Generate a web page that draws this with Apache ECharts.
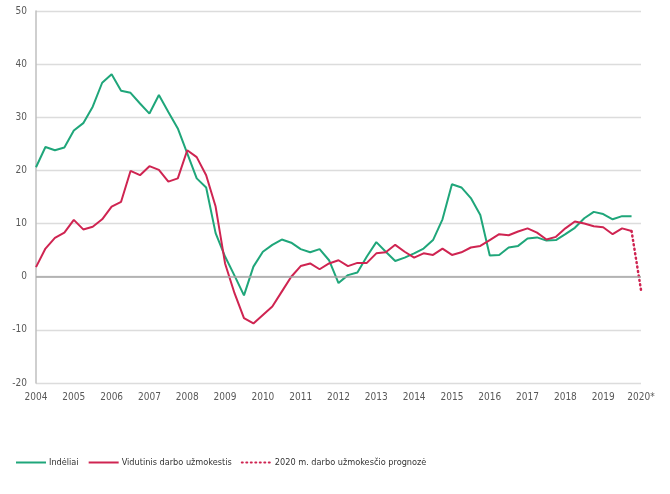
<!DOCTYPE html>
<html>
<head>
<meta charset="utf-8">
<script src="https://cdn.jsdelivr.net/npm/echarts@6/dist/echarts.min.js"></script>
<style>
html,body{margin:0;padding:0;background:#fff;}
#chart{width:670px;height:494px;}
</style>
</head>
<body>
<div id="chart"></div>
<script>
// Years shown on the axis (quarterly data from 2004 Q1 to 2020 Q1)
const years = [2004,2005,2006,2007,2008,2009,2010,2011,2012,2013,2014,2015,2016,2017,2018,2019,2020];
const yearLabels = ['2004','2005','2006','2007','2008','2009','2010','2011','2012','2013','2014','2015','2016','2017','2018','2019','2020*'];

// Indėliai (deposits), y/y %, 2004 Q1 .. 2019 Q4
const deposits = [
  20.6, 24.4, 23.8, 24.3,
  27.5, 28.9, 32.0, 36.5,
  38.1, 35.0, 34.6, 32.6,
  30.7, 34.2, 31.0, 27.9,
  23.2, 18.5, 16.8, 8.2,
  3.8, 0.2, -3.5, 1.9,
  4.7, 6.0, 7.0, 6.4,
  5.2, 4.6, 5.2, 3.1,
  -1.2, 0.3, 0.8, 3.8,
  6.5, 4.7, 2.95, 3.6,
  4.4, 5.3, 6.9, 10.8,
  17.4, 16.8, 14.8, 11.6,
  4.0, 4.1, 5.5, 5.8,
  7.2, 7.4, 6.8, 6.9,
  8.0, 9.2, 11.0, 12.2,
  11.8, 10.8, 11.4, 11.4
];

// Vidutinis darbo užmokestis (average wage), y/y %, 2004 Q1 .. 2019 Q4
const wages = [
  1.8, 5.3, 7.3, 8.3,
  10.7, 8.9, 9.4, 10.8,
  13.2, 14.1, 19.9, 19.1,
  20.8, 20.1, 17.9, 18.5,
  23.8, 22.5, 19.1, 13.2,
  2.5, -3.1, -7.8, -8.8,
  -7.2, -5.6, -2.8, 0.0,
  2.0, 2.5, 1.4, 2.5,
  3.1, 2.0, 2.6, 2.6,
  4.4, 4.6, 6.0, 4.7,
  3.6, 4.4, 4.1, 5.3,
  4.1, 4.6, 5.5, 5.8,
  6.9, 8.0, 7.8, 8.5,
  9.1, 8.3, 7.0, 7.5,
  9.1, 10.4, 10.0, 9.5,
  9.3, 8.0, 9.1, 8.6
];

// 2020 m. darbo užmokesčio prognozė: from 2019 Q4 to 2020 Q1
const forecast = [8.6, -2.5];

const yTicks = {min: -20, max: 50, interval: 10};

// Build quarterly categories
const categories = [];
years.forEach(function (y) {
  const qs = (y === 2020) ? ['Q1'] : ['Q1','Q2','Q3','Q4'];
  qs.forEach(function (q) { categories.push(y + ' ' + q); });
});
const n = categories.length;
function pad(arr, offset) {
  const out = new Array(n).fill(null);
  arr.forEach(function (v, i) { out[offset + i] = v; });
  return out;
}
const depositsSeries = pad(deposits, 0);
const wagesSeries = pad(wages, 0);
const forecastSeries = pad(forecast, n - forecast.length);

const green = '#1fa67a';
const red = '#cf2451';
const font = 'DejaVu Sans Condensed';

const chart = echarts.init(document.getElementById('chart'), null, {renderer: 'canvas'});
chart.setOption({
  animation: false,
  backgroundColor: '#ffffff',
  grid: {left: 36, right: 29, top: 11, bottom: 111, containLabel: false},
  legend: {
    data: ['Indėliai', 'Vidutinis darbo užmokestis', '2020 m. darbo užmokesčio prognozė'],
    left: 10,
    top: 453,
    itemWidth: 30,
    itemHeight: 10,
    itemGap: 9,
    itemStyle: {opacity: 0},
    textStyle: {fontFamily: font, fontSize: 9.1, color: '#333', padding: [0, 0, 0, -2]}
  },
  xAxis: {
    type: 'category',
    data: categories,
    boundaryGap: false,
    axisLine: {show: false, onZero: false},
    axisTick: {show: false},
    splitLine: {show: false},
    axisLabel: {
      interval: 3,
      margin: 9,
      color: '#595959',
      fontFamily: font,
      fontSize: 10,
      formatter: function (v) {
        const y = parseInt(v, 10);
        return yearLabels[years.indexOf(y)];
      }
    }
  },
  yAxis: {
    type: 'value',
    min: yTicks.min,
    max: yTicks.max,
    interval: yTicks.interval,
    axisLine: {show: true, lineStyle: {color: '#bfbfbf', width: 1.5}},
    axisTick: {show: false},
    axisLabel: {color: '#595959', fontFamily: font, fontSize: 10, margin: 9},
    splitLine: {show: true, lineStyle: {color: '#dcdcdc', width: 1.3}}
  },
  series: [
    {
      name: 'zero',
      type: 'line',
      data: new Array(n).fill(null),
      silent: true,
      z: 1,
      markLine: {
        silent: true,
        symbol: 'none',
        label: {show: false},
        lineStyle: {color: '#a6a6a6', width: 1.5, type: 'solid'},
        data: [{yAxis: 0}]
      }
    },
    {
      name: 'Indėliai',
      type: 'line',
      data: depositsSeries,
      symbol: 'none',
      z: 3,
      lineStyle: {color: green, width: 2},
      itemStyle: {color: green}
    },
    {
      name: 'Vidutinis darbo užmokestis',
      type: 'line',
      data: wagesSeries,
      symbol: 'none',
      z: 4,
      lineStyle: {color: red, width: 2},
      itemStyle: {color: red}
    },
    {
      name: '2020 m. darbo užmokesčio prognozė',
      type: 'line',
      data: forecastSeries,
      symbol: 'none',
      z: 4,
      lineStyle: {color: red, width: 2.5, type: [1, 3.5], cap: 'round'},
      itemStyle: {color: red}
    }
  ]
});
</script>
</body>
</html>
